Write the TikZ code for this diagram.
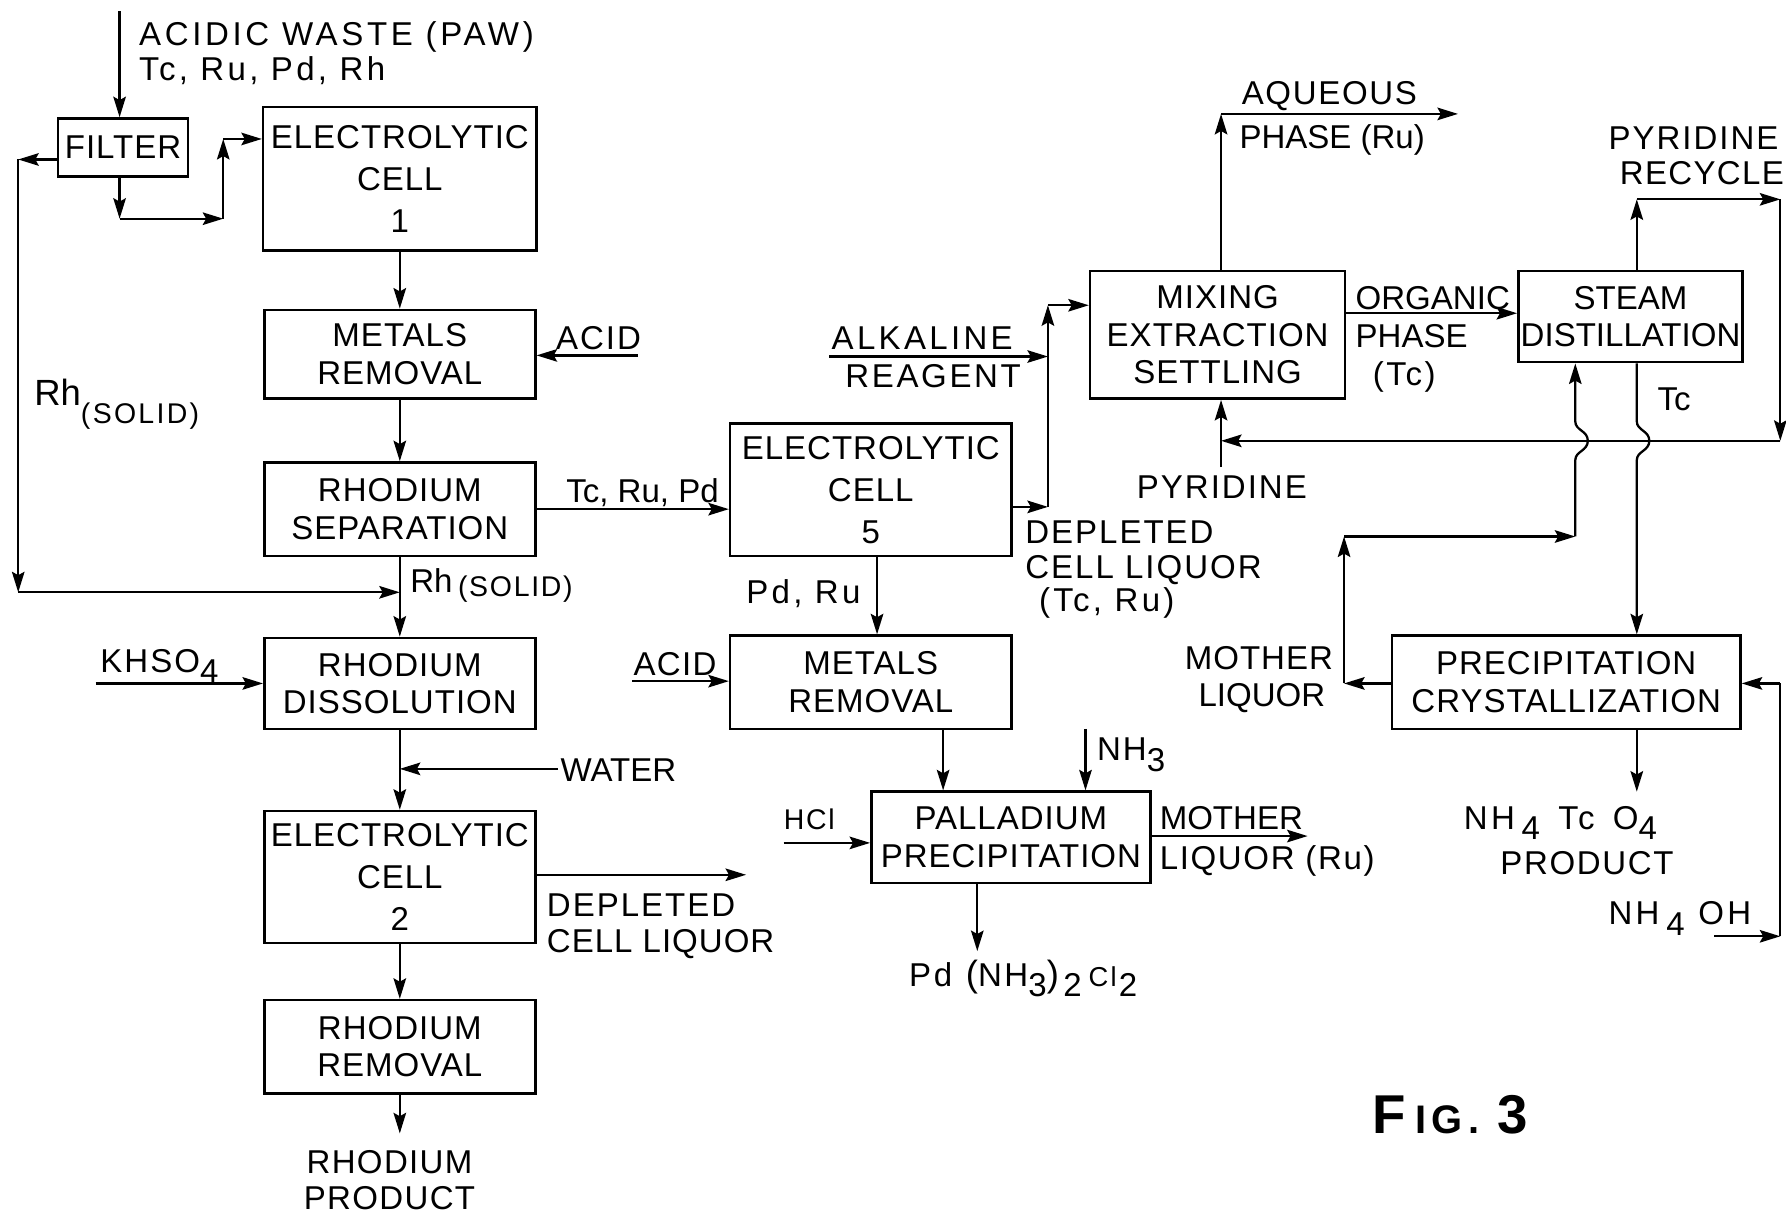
\documentclass[tikz,border=0pt]{standalone}
\usepackage{fontspec}
\setmainfont{Liberation Sans}
\usetikzlibrary{arrows.meta,calc}
\newcommand{\lowr}[1]{\raisebox{-9pt}{#1}}
\newcommand{\lsp}[1]{\addfontfeatures{LetterSpace=#1}}
\begin{document}
\begin{tikzpicture}[x=1pt,y=-1pt,
  box/.style={draw, line width=2.2pt, align=center, inner sep=0pt, font=\fontsize{29}{33}\selectfont\lsp{3}},
  box3/.style={box, font=\fontsize{29}{37}\selectfont\lsp{3}},
  ln/.style={line width=2pt},
  arr/.style={ln, -{Stealth[length=18pt,width=11pt,inset=3pt]}},
  lbl/.style={inner sep=0pt, anchor=base west, align=left, font=\fontsize{29}{33}\selectfont},
]
\useasboundingbox (0,0) rectangle (1568,1066);

% ---------------- boxes ----------------
\node[box, minimum width=114pt, minimum height=51pt] (filter) at (108,129.5) {FILTER};
\node[box3, minimum width=240pt, minimum height=126pt] (cell1) at (351,157) {ELECTROLYTIC\\CELL\\1};
\node[box, minimum width=238pt, minimum height=78pt] (metals1) at (351,311) {METALS\\REMOVAL};
\node[box, minimum width=238pt, minimum height=82pt] (rhsep) at (351,447) {RHODIUM\\SEPARATION};
\node[box, minimum width=238pt, minimum height=80pt] (rhdiss) at (351,600) {RHODIUM\\DISSOLUTION};
\node[box3, minimum width=238pt, minimum height=116pt] (cell2) at (351,770) {ELECTROLYTIC\\CELL\\2};
\node[box, minimum width=238pt, minimum height=82pt] (rhrem) at (351,919) {RHODIUM\\REMOVAL};

\node[box3, minimum width=247pt, minimum height=116pt] (cell5) at (764.5,430) {ELECTROLYTIC\\CELL\\5};
\node[box, minimum width=247pt, minimum height=82pt] (metals2) at (764.5,599) {METALS\\REMOVAL};
\node[box, minimum width=245pt, minimum height=80pt] (pdprec) at (887.5,735) {PALLADIUM\\PRECIPITATION};

\node[box, minimum width=224pt, minimum height=112pt] (mix) at (1069,294) {MIXING\\EXTRACTION\\SETTLING};
\node[box, minimum width=197pt, minimum height=80pt, font=\fontsize{29}{33}\selectfont] (steam) at (1431.5,278) {STEAM\\DISTILLATION};
\node[box, minimum width=306pt, minimum height=82pt] (precip) at (1375,599) {PRECIPITATION\\CRYSTALLIZATION};

% ---------------- coordinates ----------------
\coordinate (inTop) at (105,10);
\coordinate (f1) at (105,192);
\coordinate (f2) at (196,192);
\coordinate (f3) at (196,122);
\coordinate (L1) at (16,140);
\coordinate (L2) at (16,520);
\coordinate (L3) at (351,520);
\coordinate (acid1) at (560,312);
\coordinate (kh) at (84,600);
\coordinate (wat) at (490,675);
\coordinate (dep) at (655,768);
\coordinate (rhp) at (351,995);
\coordinate (m1) at (920,445);
\coordinate (m2) at (920,268);
\coordinate (alk) at (728,313);
\coordinate (pdx) at (770,0);
\coordinate (acid2) at (555,598);
\coordinate (mx) at (828,0);
\coordinate (nh3) at (953,640);
\coordinate (hcl) at (688,740);
\coordinate (mlr) at (1148,734);
\coordinate (pdp) at (858,835);
\coordinate (aq1) at (1072,100);
\coordinate (aq2) at (1280,100);
\coordinate (org) at (1181,275);
\coordinate (pr1) at (1437,175);
\coordinate (pr2) at (1563,175);
\coordinate (pr3) at (1563,387);
\coordinate (pr4) at (1072,387);
\coordinate (py) at (1072,410);
\coordinate (tcx) at (1437,0);
\coordinate (tcp) at (1437,695);
\coordinate (ml1) at (1180,600);
\coordinate (ml2) at (1180,471);
\coordinate (ml3) at (1383,471);
\coordinate (n1) at (1505,822);
\coordinate (n2) at (1563,822);
\coordinate (n3) at (1563,600);

% ---------------- connectors: left column ----------------
\draw[arr] (inTop) -- (inTop |- filter.north);
\draw[arr] (filter.south -| f1) -- (f1);
\draw[arr] (f1) -- (f2);
\draw[arr] (f2) -- (f3);
\draw[arr] (f3) -- (f3 -| cell1.west);
\draw[arr] ([yshift=-10.5pt]filter.west) -- (L1);
\draw[arr] (L1) -- (L2);
\draw[arr] (L2) -- (L3);
\draw[arr] (cell1.south) -- (metals1.north);
\draw[arr] (acid1) -- (acid1 -| metals1.east);
\draw[arr] (metals1.south) -- (rhsep.north);
\draw[arr] (rhsep.south) -- (rhdiss.north);
\draw[arr] (kh) -- (kh -| rhdiss.west);
\draw[arr] (rhdiss.south) -- (cell2.north);
\draw[arr] (wat) -- (wat -| rhdiss.south);
\draw[arr] (cell2.east |- dep) -- (dep);
\draw[arr] (cell2.south) -- (rhrem.north);
\draw[arr] (rhrem.south) -- (rhp);

% ---------------- middle ----------------
\draw[arr] (rhsep.east) -- (cell5.west |- rhsep.east);
\draw[arr] (cell5.east |- m1) -- (m1);
\draw[arr] (m1) -- (m2);
\draw[arr] (m2) -- (m2 -| mix.west);
\draw[arr] (alk) -- (alk -| m1);
\draw[arr] (cell5.south -| pdx) -- (metals2.north -| pdx);
\draw[arr] (acid2) -- (acid2 -| metals2.west);
\draw[arr] (metals2.south -| mx) -- (pdprec.north -| mx);
\draw[arr] (nh3) -- (nh3 |- pdprec.north);
\draw[arr] (hcl) -- (hcl -| pdprec.west);
\draw[arr] (pdprec.east |- mlr) -- (mlr);
\draw[arr] (pdprec.south -| pdp) -- (pdp);

% ---------------- right ----------------
\draw[arr] (mix.north -| aq1) -- (aq1);
\draw[arr] (aq1) -- (aq2);
\draw[arr] (mix.east |- org) -- (steam.west |- org);
\draw[arr] (steam.north -| pr1) -- (pr1);
\draw[arr] (pr1) -- (pr2);
\draw[arr] (pr2) -- (pr3);
\draw[arr] (pr3) -- (pr4);
\draw[arr] (py) -- (py |- mix.south);
\draw[arr] (steam.south -| tcx) -- (1437,370) .. controls (1437,378) and (1448,378) .. (1448,387)
   .. controls (1448,396) and (1437,396) .. (1437,404) -- (precip.north -| tcx);
\draw[arr] (precip.west |- ml1) -- (ml1);
\draw[arr] (ml1) -- (ml2);
\draw[arr] (ml2) -- (ml3);
\draw[arr] (ml3) -- (1383,404) .. controls (1383,396) and (1394,396) .. (1394,387)
   .. controls (1394,378) and (1383,378) .. (1383,370) -- (steam.south -| ml3);
\draw[arr] (precip.south -| tcx) -- (tcp);
\draw[arr] (n1) -- (n2);
\draw[ln] (n2) -- (n3);
\draw[arr] (n3) -- (n3 -| precip.east);

% ---------------- labels ----------------
\node[lbl] (tpaw) at (122,40) {\lsp{11}ACIDIC WASTE (PAW)};
\node[lbl] (tpaw2) at (122,71) {\lsp{10}Tc, Ru, Pd, Rh};
\node[lbl] (trh1) at (30,356) {{\fontsize{32}{32}\selectfont Rh}{\fontsize{25}{25}\selectfont\lsp{8}\raisebox{-16pt}{(SOLID)}}};
\node[lbl] (tacid1) at (488,307) {\lsp{6}ACID};
\node[lbl] (ttrp) at (497,441) {Tc, Ru, Pd};
\node[lbl] (trh2) at (360,520) {Rh\,{\fontsize{25}{25}\selectfont\lsp{6}\raisebox{-4pt}{(SOLID)}}};
\node[lbl] (tkh) at (88,590) {\lsp{6}KHSO\lowr{4}};
\node[lbl] (twat) at (492,686) {WATER};
\node[lbl] (tdep) at (480,805) {\lsp{6}DEPLETED};
\node[lbl] (tdepb) at (480,836) {\lsp{3}CELL LIQUOR};
\node[lbl, anchor=base] (trp) at (342,1030) {\lsp{4}RHODIUM};
\node[lbl, anchor=base] (trp2) at (342,1062) {\lsp{4}PRODUCT};

\node[lbl] (talk) at (730,307) {\lsp{10}ALKALINE};
\node[lbl] (trea) at (742,340) {\lsp{8}REAGENT};
\node[lbl] (tdep5) at (900,477) {\lsp{6}DEPLETED};
\node[lbl] (tdep5b) at (900,508) {\lsp{6}CELL LIQUOR};
\node[lbl] (tdep5c) at (912,537) {\lsp{10}(Tc, Ru)};
\node[lbl] (tpdru) at (655,530) {\lsp{10}Pd, Ru};
\node[lbl] (tacid2) at (556,593) {\lsp{4}ACID};
\node[lbl] (tnh3) at (963,668) {\lsp{6}NH\lowr{3}};
\node[lbl, font=\fontsize{25}{28}\selectfont] (thcl) at (688,728) {\lsp{6}HCl};
\node[lbl] (tml) at (1018,728) {MOTHER};
\node[lbl] (tml2) at (1018,763) {\lsp{5}LIQUOR (Ru)};
\node[lbl] (tpd) at (798,866) {\lsp{8}Pd\hspace{12pt}{\fontsize{32}{32}\selectfont(}NH\lowr{3}{\fontsize{32}{32}\selectfont)}\hspace{4pt}\lowr{2}\hspace{6pt}{\fontsize{24}{24}\selectfont Cl}\hspace{2pt}\lowr{2}};

\node[lbl] (taq) at (1090,92) {\lsp{5}AQUEOUS};
\node[lbl] (taq2) at (1088,130) {PHASE (Ru)};
\node[lbl] (torg) at (1190,272) {ORGANIC};
\node[lbl] (torg2) at (1190,305) {PHASE};
\node[lbl] (torg3) at (1205,338) {\lsp{8}(Tc)};
\node[lbl] (tpyr) at (1412,131) {\lsp{6}PYRIDINE};
\node[lbl] (trec) at (1422,162) {\lsp{4}RECYCLE};
\node[lbl] (ttc) at (1455,360) {Tc};
\node[lbl] (tpyr2) at (998,438) {\lsp{6}PYRIDINE};
\node[lbl] (tmoth) at (1040,588) {\lsp{3}MOTHER};
\node[lbl] (tliq) at (1052,620) {LIQUOR};
\node[lbl] (tnh4) at (1285,728) {\lsp{10}NH\hspace{6pt}\lowr{4}\hspace{16pt}Tc\hspace{16pt}O\lowr{4}};
\node[lbl] (tprod) at (1317,768) {\lsp{5}PRODUCT};
\node[lbl] (tnh4oh) at (1412,812) {\lsp{10}NH\hspace{6pt}\lowr{4}\hspace{12pt}OH};
\node[lbl, font=\bfseries] (tfig) at (1205,995) {\lsp{14}{\fontsize{48}{48}\selectfont F}\hspace{8pt}{\fontsize{35}{35}\selectfont IG.}\hspace{16pt}{\fontsize{48}{48}\selectfont 3}};
\end{tikzpicture}
\end{document}
